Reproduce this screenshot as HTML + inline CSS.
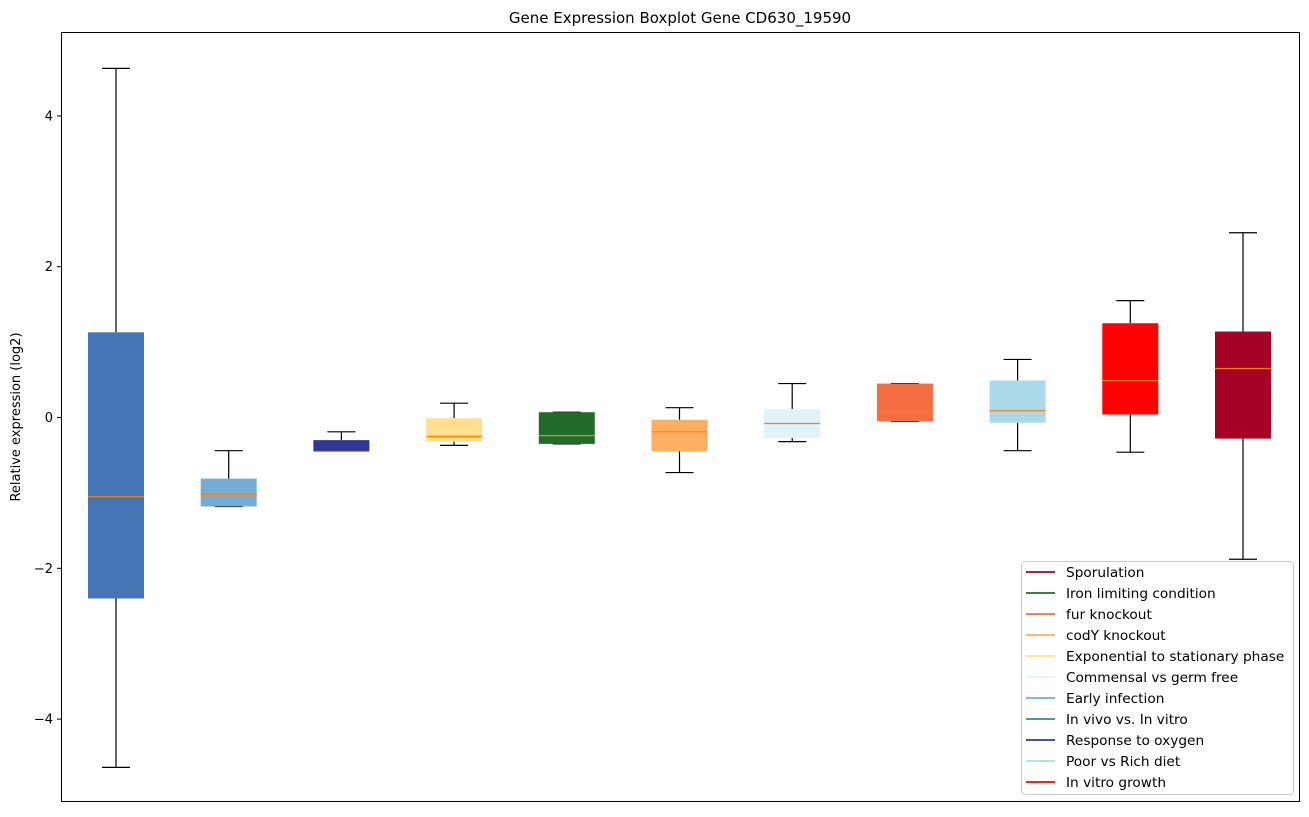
<!DOCTYPE html>
<html><head><meta charset="utf-8"><style>
body{margin:0;background:#fff;font-family:"Liberation Sans","DejaVu Sans",sans-serif;}
</style></head><body>
<svg id="chart" width="1309" height="812" xmlns="http://www.w3.org/2000/svg" font-family="DejaVu Sans, Liberation Sans, sans-serif">
<rect width="1309" height="812" fill="#fff"/>
<text x="680" y="23" text-anchor="middle" font-size="15">Gene Expression Boxplot Gene CD630_19590</text>
<text transform="translate(20,417) rotate(-90)" text-anchor="middle" font-size="13">Relative expression (log2)</text>
<g id="marks"></g>
<rect x="61.5" y="32.5" width="1238" height="769" fill="none" stroke="#000" stroke-width="1"/>
<g id="yticks"></g>
<g id="legend"></g>
</svg>
<script>
const categories=["In vivo vs. In vitro","Early infection","Response to oxygen","Exponential to stationary phase","Iron limiting condition","codY knockout","Commensal vs germ free","fur knockout","Poor vs Rich diet","In vitro growth","Sporulation"];
const colors=["#4575b4","#74add1","#313695","#fee090","#236b2b","#fdae61","#e0f3f8","#f46d43","#abd9e9","#ff0000","#a50026"];
const whiskerLow=[-4.64,-1.18,-0.45,-0.37,-0.35,-0.73,-0.32,-0.05,-0.44,-0.46,-1.88];
const q1=[-2.40,-1.18,-0.45,-0.32,-0.35,-0.45,-0.27,-0.05,-0.07,0.04,-0.28];
const medians=[-1.05,-1.02,-0.45,-0.25,-0.24,-0.19,-0.08,0.08,0.09,0.49,0.65];
const q3=[1.13,-0.81,-0.30,-0.01,0.07,-0.03,0.11,0.45,0.49,1.25,1.14];
const whiskerHigh=[4.63,-0.44,-0.19,0.19,0.07,0.13,0.45,0.45,0.77,1.55,2.45];
const yTicks=[-4,-2,0,2,4];
const legendOrder=["Sporulation","Iron limiting condition","fur knockout","codY knockout","Exponential to stationary phase","Commensal vs germ free","Early infection","In vivo vs. In vitro","Response to oxygen","Poor vs Rich diet","In vitro growth"];
const NS="http://www.w3.org/2000/svg";
const y=v=>417.5-v*75.4;
const x=i=>116+i*112.7;
function mk(tag,attrs,parent){const e=document.createElementNS(NS,tag);for(const k in attrs)e.setAttribute(k,attrs[k]);parent.appendChild(e);return e;}
const marks=document.getElementById('marks');
categories.forEach((c,i)=>{
  const g=mk('g',{},marks);
  
  
  const cx=x(i);
  mk('line',{x1:cx,x2:cx,y1:y(whiskerHigh[i]),y2:y(q3[i]),stroke:'#000','stroke-width':1.2},g);
  mk('line',{x1:cx,x2:cx,y1:y(q1[i]),y2:y(whiskerLow[i]),stroke:'#000','stroke-width':1.2},g);
  mk('line',{x1:cx-14,x2:cx+14,y1:y(whiskerHigh[i]),y2:y(whiskerHigh[i]),stroke:'#000','stroke-width':1.2},g);
  mk('line',{x1:cx-14,x2:cx+14,y1:y(whiskerLow[i]),y2:y(whiskerLow[i]),stroke:'#000','stroke-width':1.2},g);
  const top=y(q3[i]),bot=y(q1[i]);
  mk('rect',{x:cx-28,y:top,width:56,height:Math.max(bot-top,1),fill:colors[i]},g);
  mk('line',{x1:cx-28,x2:cx+28,y1:y(medians[i]),y2:y(medians[i]),stroke:'#ff7f0e','stroke-width':1.2},g);
});
const yt=document.getElementById('yticks');
yTicks.forEach(t=>{
  const g=mk('g',{},yt);
  
  
  mk('line',{x1:57,x2:61,y1:y(t),y2:y(t),stroke:'#000'},g);
  const tx=mk('text',{x:53,y:y(t)+4.5,'text-anchor':'end','font-size':13},g);
  tx.textContent=(t<0?'\u2212'+(-t):t);
});
const lg=document.getElementById('legend');
const lb=mk('rect',{x:1021.5,y:561.5,width:272,height:233,fill:'#fff',stroke:'#ccc',rx:3},lg);


legendOrder.forEach((n,j)=>{
  const g=mk('g',{},lg);
  
  
  const ly=572+j*21;
  mk('line',{x1:1026,x2:1055,y1:ly,y2:ly,stroke:colors[categories.indexOf(n)],'stroke-width':1.8},g);
  const t=mk('text',{x:1066,y:ly+5,'font-size':13.7},g);
  t.textContent=n;
});
</script>
</body></html>
